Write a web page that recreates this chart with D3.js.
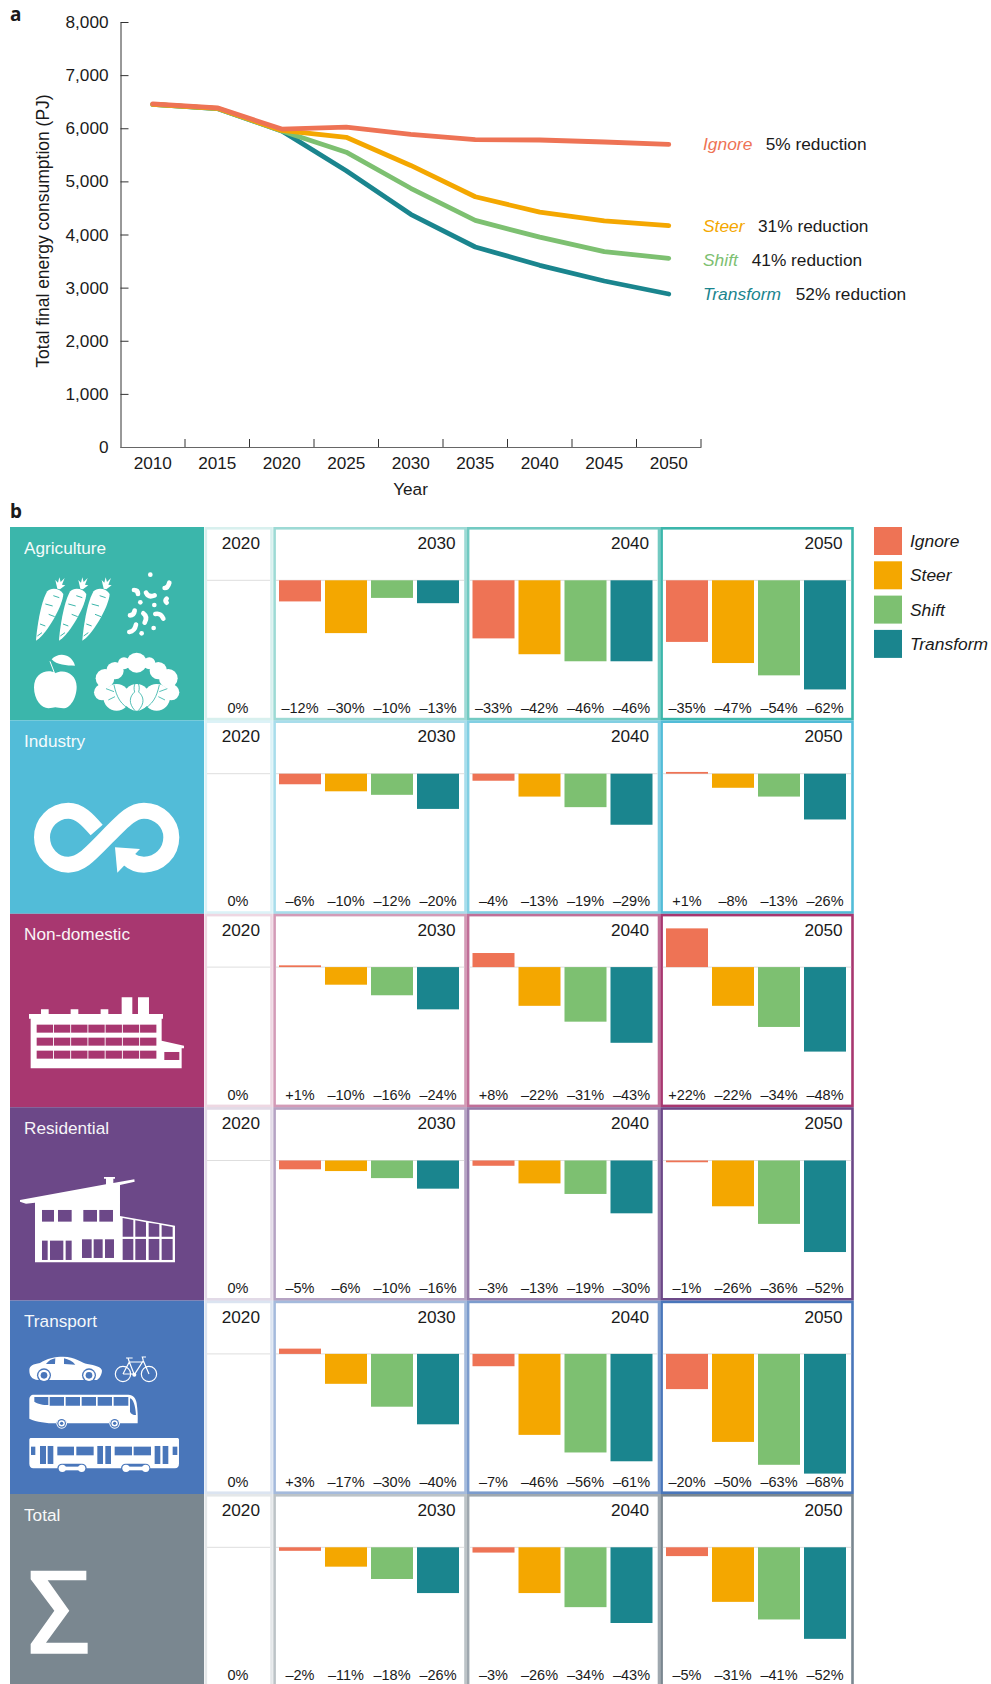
<!DOCTYPE html>
<html>
<head>
<meta charset="utf-8">
<script src="https://d3js.org/d3.v7.min.js"></script>
<style>
body { margin: 0; background: #fff; }
text { font-family: "Liberation Sans", Arial, sans-serif; fill: #1a1a1a; }
</style>
</head>
<body>
<svg id="myGraph" width="991" height="1684"></svg>
<script>
// panel a data
var lineYears = [2010, 2015, 2020, 2025, 2030, 2035, 2040, 2045, 2050];
var ignoreLine = [6460, 6385, 5985, 6020, 5885, 5785, 5779, 5741, 5698];
var steerLine = [6450, 6375, 5960, 5830, 5300, 4710, 4420, 4255, 4166];
var shiftLine = [6450, 6370, 5950, 5550, 4870, 4265, 3950, 3676, 3551];
var transformLine = [6450, 6370, 5950, 5200, 4380, 3765, 3420, 3125, 2880];
var yTicks = [0, 1000, 2000, 3000, 4000, 5000, 6000, 7000, 8000];
var reductions = ["5% reduction", "31% reduction", "41% reduction", "52% reduction"];

// panel b data
var scenarios = ["Ignore", "Steer", "Shift", "Transform"];
var scenarioColors = ["#ee7355", "#f4a700", "#7dc071", "#1a858e"];
var sectors = ["Agriculture", "Industry", "Non-domestic", "Residential", "Transport", "Total"];
var sectorColors = ["#3bb6ab", "#52bcd8", "#a83770", "#6c4888", "#4976ba", "#7a8790"];
var barYears = [2030, 2040, 2050];
var agriculture = [[-12, -30, -10, -13], [-33, -42, -46, -46], [-35, -47, -54, -62]];
var industry = [[-6, -10, -12, -20], [-4, -13, -19, -29], [1, -8, -13, -26]];
var nonDomestic = [[1, -10, -16, -24], [8, -22, -31, -43], [22, -22, -34, -48]];
var residential = [[-5, -6, -10, -16], [-3, -13, -19, -30], [-1, -26, -36, -52]];
var transport = [[3, -17, -30, -40], [-7, -46, -56, -61], [-20, -50, -63, -68]];
var total = [[-2, -11, -18, -26], [-3, -26, -34, -43], [-5, -31, -41, -52]];
var sectorValues = [agriculture, industry, nonDomestic, residential, transport, total];

var svg = d3.select("#myGraph");

// ---- panel a ----
svg.append("text").attr("x", 10).attr("y", 21)
    .style("font-family", "'Noto Sans'").style("font-weight", 700).style("font-size", "19px").text("a");
svg.append("text").attr("x", 10).attr("y", 518)
    .style("font-family", "'Noto Sans'").style("font-weight", 700).style("font-size", "19px").text("b");

var xBand = d3.scaleBand().domain(lineYears).range([120.5, 701]);
var yLine = d3.scaleLinear().domain([0, 8000]).range([447, 22]);

var yAxis = d3.axisLeft(yLine).tickValues(yTicks).tickSizeInner(-8).tickSizeOuter(0)
    .tickPadding(12).tickFormat(d3.format(","));
var yg = svg.append("g").attr("transform", "translate(120.5,0)").call(yAxis);
yg.selectAll("text").style("font-size", "17.2px");
yg.selectAll("line, path").attr("stroke", "#333");

var xAxis = d3.axisBottom(xBand).tickSize(0).tickPadding(10);
var xg = svg.append("g").attr("transform", "translate(0,447)").call(xAxis);
xg.selectAll("text").style("font-size", "17.2px");
xg.select("path").attr("stroke", "#666").attr("stroke-width", 1.2);

// tick marks sit between the years
var xEdges = xBand.domain().map(function(d) { return xBand(d) + xBand.step(); });
svg.append("g").selectAll("line").data(xEdges).enter().append("line")
    .attr("x1", function(d) { return d; }).attr("x2", function(d) { return d; })
    .attr("y1", 439).attr("y2", 447).attr("stroke", "#333");

svg.append("text").attr("x", 410.5).attr("y", 495).attr("text-anchor", "middle")
    .style("font-size", "17.2px").text("Year");
svg.append("text").attr("transform", "translate(48.5,231) rotate(-90)").attr("text-anchor", "middle")
    .style("font-size", "17.5px").text("Total final energy consumption (PJ)");

var lineGen = d3.line()
    .x(function(d, i) { return xBand(lineYears[i]) + xBand.bandwidth() / 2; })
    .y(function(d) { return yLine(d); });

var lineSeries = [transformLine, shiftLine, steerLine, ignoreLine];
var lineColors = ["#1a858e", "#7dc071", "#f4a700", "#ee7355"];
svg.append("g").selectAll("path").data(lineSeries).enter().append("path")
    .attr("d", lineGen).attr("fill", "none")
    .attr("stroke", function(d, i) { return lineColors[i]; })
    .attr("stroke-width", 4.8).attr("stroke-linecap", "round").attr("stroke-linejoin", "round");

// labels at line ends
var labelY = [150, 232, 266, 300];
var reductionX = [765.7, 758, 751.7, 795.7];
scenarios.forEach(function(s, i) {
    svg.append("text").attr("x", 703).attr("y", labelY[i]).style("font-size", "17.4px")
        .style("font-style", "italic").style("fill", scenarioColors[i]).text(s);
    svg.append("text").attr("x", reductionX[i]).attr("y", labelY[i]).style("font-size", "17.3px").text(reductions[i]);
});

// ---- panel b ----
var rowY = d3.scaleBand().domain(sectors).range([527, 1687.4]);
var colX = d3.scaleBand().domain(barYears).range([273.3, 853.8]);
var barX = d3.scaleBand().domain(scenarios).range([3.7, 187.7]).paddingInner(4 / 46).paddingOuter(2 / 46);
var barY = d3.scaleLinear().domain([0, -68]).range([0, 119.7]);
var zeroOffset = 53.3;
var labelOffset = 186;
var frameAlpha = { 2020: 0.2, 2030: 0.5, 2040: 0.72, 2050: 1 };

function frame(g, x, w, h, color, alpha) {
    g.append("rect").attr("x", x + 1.3).attr("y", 1.3).attr("width", w - 2.6).attr("height", h - 2.6)
        .attr("fill", "#fff").attr("stroke", color).attr("stroke-opacity", alpha).attr("stroke-width", 2.6);
}

sectors.forEach(function(sector, r) {
    var g = svg.append("g").attr("transform", "translate(0," + rowY(sector) + ")");
    var h = rowY.bandwidth();
    var color = sectorColors[r];
    g.append("rect").attr("x", 10).attr("y", 0).attr("width", 194).attr("height", h).attr("fill", color);
    g.append("text").attr("x", 24).attr("y", 26.5).style("font-size", "17.2px").style("fill", "#fff")
        .style("opacity", 0.95).text(sector);

    // 2020 cell
    frame(g, 204.5, 68.3, h, color, frameAlpha[2020]);
    g.append("line").attr("x1", 207).attr("x2", 270).attr("y1", zeroOffset).attr("y2", zeroOffset)
        .attr("stroke", "#dedede");
    g.append("text").attr("x", 260).attr("y", 22).attr("text-anchor", "end").style("font-size", "17.2px").text("2020");
    g.append("text").attr("x", 238).attr("y", labelOffset).attr("text-anchor", "middle").style("font-size", "14.5px").text("0%");

    barYears.forEach(function(year, c) {
        var cg = g.append("g").attr("transform", "translate(" + colX(year) + ",0)");
        frame(cg, 0, colX.bandwidth(), h, color, frameAlpha[year]);
        cg.append("line").attr("x1", 2.6).attr("x2", colX.bandwidth() - 2.6).attr("y1", zeroOffset).attr("y2", zeroOffset)
            .attr("stroke", "#dedede");
        cg.append("text").attr("x", 182.4).attr("y", 22).attr("text-anchor", "end").style("font-size", "17.2px").text(year);
        var vals = sectorValues[r][c];
        cg.selectAll("rect.bar").data(vals).enter().append("rect").attr("class", "bar")
            .attr("x", function(d, i) { return barX(scenarios[i]); })
            .attr("y", function(d) { return zeroOffset + Math.min(0, barY(d)); })
            .attr("width", barX.bandwidth())
            .attr("height", function(d) { return Math.abs(barY(d)); })
            .attr("fill", function(d, i) { return scenarioColors[i]; });
        cg.selectAll("text.val").data(vals).enter().append("text").attr("class", "val")
            .attr("x", function(d, i) { return barX(scenarios[i]) + barX.bandwidth() / 2; })
            .attr("y", labelOffset).attr("text-anchor", "middle").style("font-size", "14.5px")
            .text(function(d) { return (d > 0 ? "+" : "\u2013") + Math.abs(d) + "%"; });
    });
});

// legend
scenarios.forEach(function(s, i) {
    var y = 527 + i * 34.3;
    svg.append("rect").attr("x", 874).attr("y", y).attr("width", 28).attr("height", 28).attr("fill", scenarioColors[i]);
    svg.append("text").attr("x", 910).attr("y", y + 20).style("font-size", "17.4px").style("font-style", "italic").text(s);
});

// ---- sector icons, drawn in 3x crop units ----
function icon(x, y) {
    return svg.append("g").attr("transform", "translate(" + x + "," + y + ") scale(0.3333)").attr("fill", "#fff");
}
function rects(g, list, fill) {
    list.forEach(function(b) {
        g.append("rect").attr("x", b[0]).attr("y", b[1]).attr("width", b[2] - b[0]).attr("height", b[3] - b[1]).attr("fill", fill);
    });
}

// agriculture
var ag = icon(0, 500);
[0, 69, 139].forEach(function(dx) {
    var c = ag.append("g").attr("transform", "translate(" + dx + ",0)");
    c.append("path").attr("d", "M108 422C112 370 125 300 142 274C152 262 180 264 190 282C188 315 150 385 118 415Z");
    c.append("path").attr("d", "M172 266L166 240L174 248L178 232L182 246L194 234L186 254L196 256L180 268Z");
    c.append("path").attr("d", "M160 287L178 293M136 312L158 318M146 343L164 350M120 372L136 378M112 408L126 398")
        .attr("stroke", "#3bb6ab").attr("stroke-width", 3).attr("fill", "none");
});
[[451, 224, 7], [421, 307, 7], [463, 315, 7], [461, 384, 7], [425, 400, 7]].forEach(function(p) {
    ag.append("circle").attr("cx", p[0]).attr("cy", p[1]).attr("r", p[2]);
});
["M402 270Q414 270 414 282", "M438 278Q445 294 464 286", "M508 248Q504 264 494 264", "M500 296Q494 302 500 308",
 "M404 332Q402 346 390 346", "M430 340Q444 350 434 368", "M466 342Q482 338 490 356", "M408 374Q404 394 388 396"].forEach(function(d) {
    ag.append("path").attr("d", d).attr("fill", "none").attr("stroke", "#fff").attr("stroke-width", 14).attr("stroke-linecap", "round");
});
ag.append("path").attr("d", "M166 518C140 505 102 520 102 562C102 600 125 625 145 625C155 625 160 622 166 622C172 622 180 625 190 625C210 625 230 595 230 560C230 520 190 505 166 520Z");
ag.append("path").attr("d", "M150 484L163 518").attr("stroke", "#fff").attr("stroke-width", 3);
ag.append("path").attr("d", "M155 478C175 455 215 460 225 497C200 497 170 495 155 478Z");
[[410, 488, 30], [372, 490, 18], [448, 490, 18], [345, 512, 26], [475, 512, 26], [315, 535, 28], [505, 535, 28], [306, 577, 24], [514, 577, 24],
 [350, 592, 40], [470, 592, 40], [410, 592, 40]].forEach(function(p) {
    ag.append("circle").attr("cx", p[0]).attr("cy", p[1]).attr("r", p[2]);
});
["M405 632C385 610 388 590 404 576C398 556 408 540 424 530",
 "M415 632C435 610 432 590 416 576C422 556 412 540 396 530",
 "M398 632C360 615 350 590 342 555M342 575L318 566M345 590L325 600",
 "M422 632C460 615 470 590 478 555M478 575L502 566M475 590L495 600"].forEach(function(d) {
    ag.append("path").attr("d", d).attr("fill", "none").attr("stroke", "#3bb6ab").attr("stroke-width", 2.6);
});

// industry
var ind = icon(0, 500);
ind.append("path")
    .attr("d", "M290 990C262 958 238 932 205 932C160 932 126 970 126 1012C126 1058 162 1094 205 1094C240 1094 262 1072 320 1012C378 952 400 932 432 932C478 932 514 970 514 1012C514 1058 478 1094 432 1094C415 1094 400 1090 385 1076")
    .attr("fill", "none").attr("stroke", "#fff").attr("stroke-width", 48);
ind.append("path").attr("d", "M345 1042L420 1047L352 1118Z");

// non-domestic
var nd = icon(0, 900);
nd.append("path").attr("d", "M92 505V356H87V342H123V328H146V342H212V328H235V342H302V328H325V342H365V292H397V342H414V292H447V342H489V356H485V422L552 437V445H545V505Z");
[374, 413, 452].forEach(function(y) {
    d3.range(7).forEach(function(i) {
        rects(nd, [[110 + i * 51.7, y, 159 + i * 51.7, y + 24]], "#a83770");
    });
});
rects(nd, [[493, 456, 538, 480]], "#a83770");

// residential
var rs = icon(0, 900);
rs.append("path").attr("d", "M60 900L318 853V836H312V831H345V836H340V849L403 838L404 845L360 855V948L525 977V1087H105V908L78 911L60 905Z");
rects(rs, [[126, 930, 162, 965], [174, 930, 215, 965], [250, 930, 291, 965], [298, 930, 339, 965],
    [126, 1022, 143, 1080], [150, 1022, 190, 1080], [197, 1022, 215, 1080],
    [246, 1018, 275, 1074], [281, 1018, 308, 1074], [315, 1018, 342, 1074],
    [368, 1017, 400, 1080], [406, 1017, 438, 1080], [446, 1017, 478, 1080], [485, 1017, 518, 1080]], "#6c4888");
["M368 954L400 960V1010H368Z", "M406 961L438 967V1010H406Z", "M446 968L478 973V1010H446Z", "M485 975L518 981V1010H485Z"].forEach(function(d) {
    rs.append("path").attr("d", d).attr("fill", "#6c4888");
});

// transport
var tr = icon(0, 1290);
tr.append("path").attr("d", "M88 240C88 228 100 222 120 219C140 205 165 200 190 200C225 200 245 218 262 222C285 225 305 232 306 242C305 258 295 268 290 270H115C95 268 88 258 88 240Z");
tr.append("path").attr("d", "M138 222C146 212 155 207 166 205L165 222ZM192 205C205 208 218 214 226 224L192 222Z").attr("fill", "#4976ba");
[[132, 256], [267, 256]].forEach(function(p) {
    tr.append("circle").attr("cx", p[0]).attr("cy", p[1]).attr("r", 21).attr("fill", "#4976ba");
    tr.append("circle").attr("cx", p[0]).attr("cy", p[1]).attr("r", 17);
    tr.append("circle").attr("cx", p[0]).attr("cy", p[1]).attr("r", 10).attr("fill", "#4976ba");
});
[[369, 252], [447, 252]].forEach(function(p) {
    tr.append("circle").attr("cx", p[0]).attr("cy", p[1]).attr("r", 23).attr("fill", "none").attr("stroke", "#fff").attr("stroke-width", 3.5);
});
tr.append("path").attr("d", "M369 252L388 216L403 254L430 212L447 252M388 216H430M369 252H403M378 204H398M388 216L384 204M430 212L427 201H438")
    .attr("fill", "none").attr("stroke", "#fff").attr("stroke-width", 3.5);
tr.append("circle").attr("cx", 403).attr("cy", 254).attr("r", 6);
tr.append("path").attr("d", "M88 330C88 320 92 314 102 314H385C400 314 408 325 410 340C413 360 414 380 413 400H360C355 385 332 385 327 400H202C197 385 173 385 168 400C140 400 110 396 88 386Z");
tr.append("path").attr("d", "M103 321H145V345C130 345 112 342 103 335ZM149 321H192V347H149ZM197 321H240V347H197ZM245 321H288V347H245ZM293 321H336V347H293ZM341 321H385V347H341ZM390 325C400 328 406 345 408 375C400 375 392 372 390 365Z")
    .attr("fill", "#4976ba");
[[185, 400], [344, 400]].forEach(function(p) {
    tr.append("circle").attr("cx", p[0]).attr("cy", p[1]).attr("r", 16);
    tr.append("circle").attr("cx", p[0]).attr("cy", p[1]).attr("r", 13).attr("fill", "#4976ba");
    tr.append("circle").attr("cx", p[0]).attr("cy", p[1]).attr("r", 9.5);
    tr.append("circle").attr("cx", p[0]).attr("cy", p[1]).attr("r", 5).attr("fill", "#4976ba");
});
tr.append("path").attr("d", "M88 450C88 446 90 444 94 444H531C535 444 537 446 537 450V520C537 530 533 535 525 535H100C92 535 88 530 88 520Z");
rects(tr, [[93, 470, 106, 495], [120, 468, 138, 522], [143, 468, 160, 522], [172, 470, 222, 496], [229, 470, 281, 496],
    [292, 468, 309, 522], [316, 468, 333, 522], [344, 470, 396, 496], [401, 470, 453, 496],
    [464, 468, 481, 522], [488, 468, 505, 522], [518, 470, 532, 495]], "#4976ba");
// bogies under the tram
[[172, 521, 260, 550], [363, 521, 451, 550]].forEach(function(b) {
    tr.append("rect").attr("x", b[0]).attr("y", b[1]).attr("width", b[2] - b[0]).attr("height", b[3] - b[1])
        .attr("rx", 14).attr("fill", "#4976ba");
});
rects(tr, [[187, 530, 245, 541], [378, 530, 437, 541]], "#fff");
[[187, 535], [245, 535], [378, 535], [437, 535]].forEach(function(p) {
    tr.append("circle").attr("cx", p[0]).attr("cy", p[1]).attr("r", 11);
});

// total
var to = icon(0, 1290);
to.append("path").attr("d", "M92 842H259V871H143L208 962L138 1058H263V1091H92V1062L163 962L92 868Z");
</script>
</body>
</html>
